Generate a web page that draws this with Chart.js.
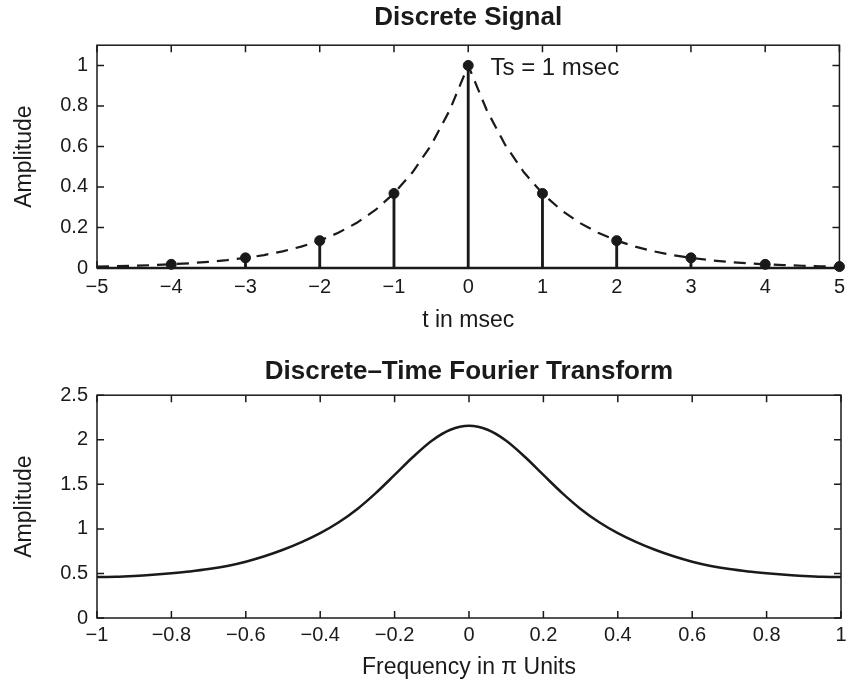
<!DOCTYPE html>
<html>
<head>
<meta charset="utf-8">
<script src="https://cdn.jsdelivr.net/npm/chart.js@4/dist/chart.umd.min.js"></script>
<style>
  html, body { margin: 0; padding: 0; background: #fff; }
  #wrap { position: relative; width: 852px; height: 682px; }
  canvas { position: absolute; left: 0; }
  #signalChart { top: 0; }
  #dtftChart { top: 341px; }
</style>
</head>
<body>
<div id="wrap">
  <canvas id="signalChart" width="852" height="341"></canvas>
  <canvas id="dtftChart" width="852" height="341"></canvas>
</div>
<script>
// samples x(n) = e^{-|n|}, Ts = 1 msec
const sampleTimes = [-4, -3, -2, -1, 0, 1, 2, 3, 4, 5];
const sampleValues = [0.018, 0.050, 0.135, 0.368, 1.000, 0.368, 0.135, 0.050, 0.018, 0.007];

// dashed analog envelope
const envelopeTimes = [-5, -4.75, -4.5, -4.25, -4, -3.75, -3.5, -3.25, -3, -2.75, -2.5, -2.25, -2, -1.75, -1.5, -1.25,
  -1, -0.75, -0.5, -0.25, 0, 0.25, 0.5, 0.75, 1, 1.25, 1.5, 1.75, 2, 2.25, 2.5, 2.75, 3, 3.25, 3.5, 3.75,
  4, 4.25, 4.5, 4.75, 5];
const envelopeValues = [0.0067, 0.0087, 0.0111, 0.0143, 0.0183, 0.0235, 0.0302, 0.0388, 0.0498, 0.0639, 0.0821,
  0.1054, 0.1353, 0.1738, 0.2231, 0.2865, 0.3679, 0.4724, 0.6065, 0.7788, 1.0, 0.7788, 0.6065, 0.4724,
  0.3679, 0.2865, 0.2231, 0.1738, 0.1353, 0.1054, 0.0821, 0.0639, 0.0498, 0.0388, 0.0302, 0.0235,
  0.0183, 0.0143, 0.0111, 0.0087, 0.0067];

// DTFT magnitude
const freqUnits = [-1, -0.95, -0.9, -0.85, -0.8, -0.75, -0.7, -0.65, -0.6, -0.55, -0.5, -0.45, -0.4, -0.35, -0.3,
  -0.25, -0.2, -0.15, -0.1, -0.05, 0, 0.05, 0.1, 0.15, 0.2, 0.25, 0.3, 0.35, 0.4, 0.45, 0.5, 0.55, 0.6,
  0.65, 0.7, 0.75, 0.8, 0.85, 0.9, 0.95, 1];
const dtftMagnitude = [0.459, 0.462, 0.472, 0.486, 0.503, 0.523, 0.549, 0.584, 0.632, 0.693, 0.766, 0.852, 0.953,
  1.075, 1.224, 1.404, 1.605, 1.809, 1.989, 2.112, 2.156, 2.112, 1.989, 1.809, 1.605, 1.404, 1.224,
  1.075, 0.953, 0.852, 0.766, 0.693, 0.632, 0.584, 0.549, 0.523, 0.503, 0.486, 0.472, 0.462, 0.459];

// tick labels
const signalXTicks = [-5, -4, -3, -2, -1, 0, 1, 2, 3, 4, 5];
const signalYTicks = [0, 0.2, 0.4, 0.6, 0.8, 1];
const dtftXTicks = [-1, -0.8, -0.6, -0.4, -0.2, 0, 0.2, 0.4, 0.6, 0.8, 1];
const dtftYTicks = [0, 0.5, 1, 1.5, 2, 2.5];

const noteText = 'Ts = 1 msec';
const noteAt = { x: 0.3, y: 0.985 };

const ink = '#1a1a1a';
const family = '"Liberation Sans", Arial, Helvetica, sans-serif';

function fmt(v) {
    return v < 0 ? '\u2212' + Math.abs(v) : String(v);
}

// matlab style box with inward ticks on all sides, plus optional text note
const matlabFrame = {
    id: 'matlabFrame',
    afterDraw(chart, args, opts) {
        const ctx = chart.ctx;
        const a = chart.chartArea;
        const xs = chart.scales.x, ys = chart.scales.y;
        const tl = 7;
        ctx.save();
        ctx.strokeStyle = ink;
        ctx.lineWidth = 1.5;
        ctx.strokeRect(a.left, a.top, a.right - a.left, a.bottom - a.top);
        ctx.beginPath();
        xs.ticks.forEach(t => {
            const px = xs.getPixelForValue(t.value);
            ctx.moveTo(px, a.bottom); ctx.lineTo(px, a.bottom - tl);
            ctx.moveTo(px, a.top); ctx.lineTo(px, a.top + tl);
        });
        ys.ticks.forEach(t => {
            const py = ys.getPixelForValue(t.value);
            ctx.moveTo(a.left, py); ctx.lineTo(a.left + tl, py);
            ctx.moveTo(a.right, py); ctx.lineTo(a.right - tl, py);
        });
        ctx.stroke();
        if (opts.baseline) {
            const y0 = ys.getPixelForValue(0);
            ctx.lineWidth = 2.5;
            ctx.beginPath();
            ctx.moveTo(a.left, y0); ctx.lineTo(a.right, y0);
            ctx.stroke();
        }
        if (opts.note) {
            ctx.fillStyle = ink;
            ctx.font = '24px ' + family;
            ctx.textAlign = 'left';
            ctx.textBaseline = 'middle';
            ctx.fillText(opts.note.text, xs.getPixelForValue(opts.note.x), ys.getPixelForValue(opts.note.y));
        }
        ctx.restore();
    }
};

function axis(ticks, min, max, title, opt) {
    return {
        type: 'linear',
        min: min,
        max: max,
        offset: false,
        grid: { display: false, drawTicks: false },
        border: { display: false },
        afterBuildTicks: s => { s.ticks = ticks.map(v => ({ value: v })); },
        afterFit: opt.fit,
        ticks: {
            color: ink,
            padding: opt.pad,
            maxRotation: 0,
            autoSkip: false,
            font: { family: family, size: 20 },
            callback: v => fmt(v)
        },
        title: {
            display: true,
            text: title,
            color: ink,
            font: { family: family, size: 23 },
            padding: opt.titlePad
        }
    };
}

function titleOpts(text, top, bottom) {
    return {
        display: true,
        text: text,
        color: ink,
        fullSize: false,
        font: { family: family, size: 26, weight: 'bold' },
        padding: { top: top, bottom: bottom }
    };
}

Chart.defaults.animation = false;

new Chart(document.getElementById('signalChart'), {
    type: 'scatter',
    data: {
        datasets: [{
            type: 'scatter',
            data: sampleTimes.map((t, i) => ({ x: t, y: sampleValues[i] })),
            pointRadius: 5,
            pointBackgroundColor: ink,
            pointBorderColor: ink,
            clip: false,
            order: 0
        }, {
            type: 'line',
            data: envelopeTimes.map((t, i) => ({ x: t, y: envelopeValues[i] })),
            borderColor: ink,
            borderWidth: 2.2,
            borderDash: [12, 8],
            pointRadius: 0,
            fill: false,
            order: 1
        }, {
            type: 'bar',
            data: sampleTimes.map((t, i) => ({ x: t, y: sampleValues[i] })),
            backgroundColor: ink,
            barThickness: 2.2,
            order: 2
        }]
    },
    options: {
        responsive: false,
        layout: { padding: { left: 0, right: 11, top: 0, bottom: 0 } },
        plugins: {
            legend: { display: false },
            tooltip: { enabled: false },
            title: titleOpts('Discrete Signal', 2, 12),
            matlabFrame: { note: { text: noteText, x: noteAt.x, y: noteAt.y }, baseline: true }
        },
        scales: {
            x: axis(signalXTicks, -5, 5, 't in msec', { pad: 7, titlePad: { top: 0, bottom: 7 }, fit: s => { s.height = 73; } }),
            y: axis(signalYTicks, 0, 1.1, 'Amplitude', { pad: 9, titlePad: { top: 11, bottom: 0 }, fit: s => { s.width = 97; } })
        }
    },
    plugins: [matlabFrame]
});

new Chart(document.getElementById('dtftChart'), {
    type: 'line',
    data: {
        datasets: [{
            data: freqUnits.map((f, i) => ({ x: f, y: dtftMagnitude[i] })),
            borderColor: ink,
            borderWidth: 2.5,
            pointRadius: 0,
            cubicInterpolationMode: 'monotone',
            fill: false
        }]
    },
    options: {
        responsive: false,
        layout: { padding: { left: 0, right: 11, top: 0, bottom: 0 } },
        plugins: {
            legend: { display: false },
            tooltip: { enabled: false },
            title: titleOpts('Discrete\u2013Time Fourier Transform', 15, 8),
            matlabFrame: {}
        },
        scales: {
            x: axis(dtftXTicks, -1, 1, 'Frequency in \u03c0 Units', { pad: 5, titlePad: { top: 0, bottom: 1 }, fit: s => { s.height = 64; } }),
            y: axis(dtftYTicks, 0, 2.5, 'Amplitude', { pad: 9, titlePad: { top: 11, bottom: 0 }, fit: s => { s.width = 97; } })
        }
    },
    plugins: [matlabFrame]
});
</script>
</body>
</html>
